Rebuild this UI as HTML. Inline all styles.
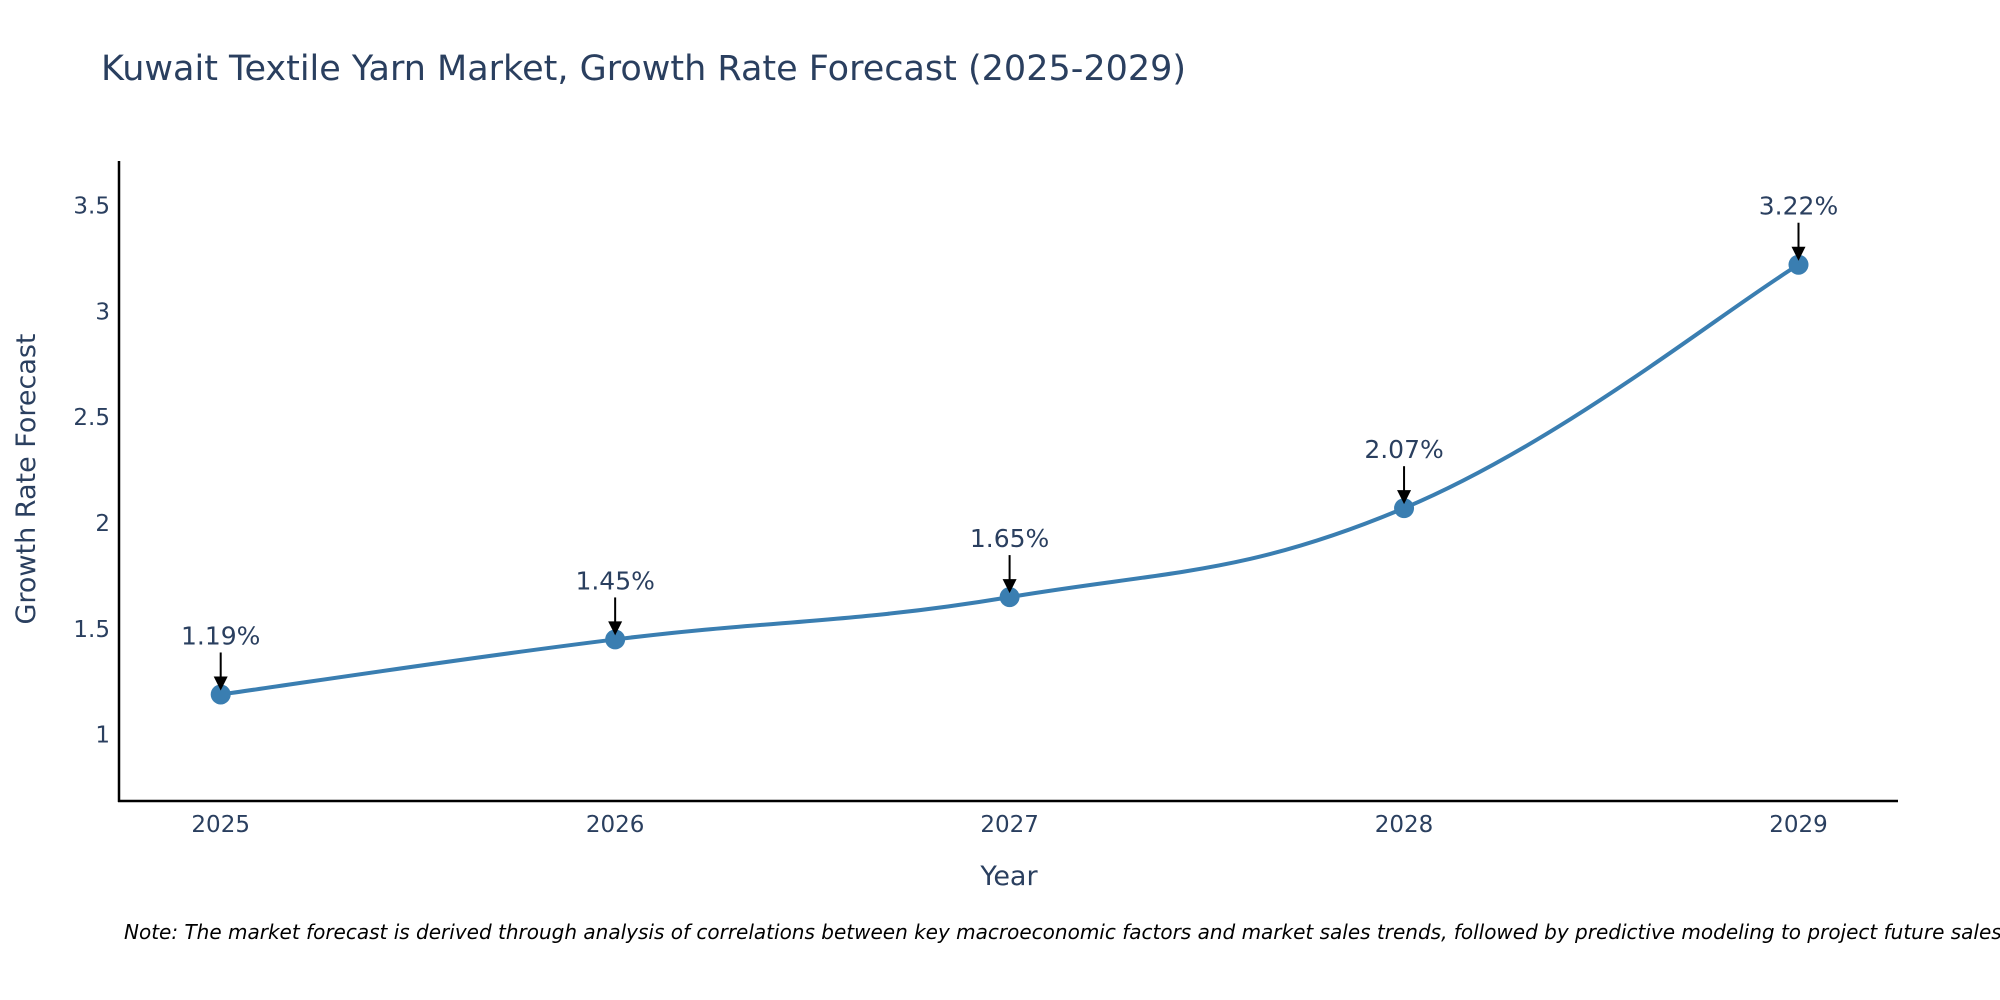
<!DOCTYPE html>
<html><head><meta charset="utf-8"><style>
html,body{margin:0;padding:0;background:#fff;width:2000px;height:1000px;overflow:hidden}
text{font-family:"DejaVu Sans","Liberation Sans",sans-serif}
</style></head><body>
<svg id="chart" width="2000" height="1000" xmlns="http://www.w3.org/2000/svg">
<rect width="2000" height="1000" fill="#fff"/>
<text x="101" y="80" font-size="35" fill="#2a3f5f">Kuwait Textile Yarn Market, Growth Rate Forecast (2025-2029)</text>
<g id="yticks"></g><g id="xticks"></g>
<line x1="119" y1="161" x2="119" y2="802" stroke="#000" stroke-width="2.5"/>
<line x1="118" y1="801" x2="1898" y2="801" stroke="#000" stroke-width="2.5"/>
<g id="series"></g><g id="annots"></g>
<text x="1009" y="885" font-size="27" fill="#2a3f5f" text-anchor="middle">Year</text>
<text transform="translate(35,479) rotate(-90)" font-size="27" fill="#2a3f5f" text-anchor="middle">Growth Rate Forecast</text>
<text x="124" y="939" font-size="20" font-style="italic" fill="#000">Note: The market forecast is derived through analysis of correlations between key macroeconomic factors and market sales trends, followed by predictive modeling to project future sales.</text>
</svg>
<script>
const categories = [2025, 2026, 2027, 2028, 2029];
const values = [1.19, 1.45, 1.65, 2.07, 3.22];
const valueLabels = ["1.19%", "1.45%", "1.65%", "2.07%", "3.22%"];
const yTickValues = [1, 1.5, 2, 2.5, 3, 3.5];
const yTickLabels = ["1", "1.5", "2", "2.5", "3", "3.5"];

const NS = "http://www.w3.org/2000/svg";
const X0 = 220.7, XSTEP = 394.45;
function xScale(v){ return X0 + (v - categories[0]) * XSTEP; }
function yScale(v){ return 734.7 - (v - 1) * 211.7; }
function mk(tag, attrs, parent){ const e = document.createElementNS(NS, tag); for (const k in attrs) e.setAttribute(k, attrs[k]); parent.appendChild(e); return e; }

const yt = document.getElementById('yticks');
yTickValues.forEach((v, i) => {
  const t = mk('text', {x: 110, y: yScale(v) + 8, 'font-size': 23, fill: '#2a3f5f', 'text-anchor': 'end'}, yt);
  
  
  t.textContent = yTickLabels[i];
});
const xt = document.getElementById('xticks');
categories.forEach(c => {
  const t = mk('text', {x: xScale(c), y: 832, 'font-size': 23, fill: '#2a3f5f', 'text-anchor': 'middle'}, xt);
  
  
  t.textContent = String(c);
});

const pts = categories.map((c, i) => [xScale(c), yScale(values[i])]);
let d = 'M' + pts[0][0] + ',' + pts[0][1];
const s = 0.2;
for (let i = 0; i < pts.length - 1; i++) {
  const p0 = pts[i - 1] || pts[i], p1 = pts[i], p2 = pts[i + 1], p3 = pts[i + 2] || p2;
  const c1 = [p1[0] + (p2[0] - p0[0]) * s, p1[1] + (p2[1] - p0[1]) * s];
  const c2 = [p2[0] - (p3[0] - p1[0]) * s, p2[1] - (p3[1] - p1[1]) * s];
  d += ' C' + c1 + ' ' + c2 + ' ' + p2;
}
const sg = document.getElementById('series');
const line = mk('path', {d: d, fill: 'none', stroke: '#3a7eb1', 'stroke-width': 4}, sg);


pts.forEach(p => {
  const c = mk('circle', {cx: p[0], cy: p[1], r: 10, fill: '#3a7eb1'}, sg);
  
  
});

const ag = document.getElementById('annots');
pts.forEach((p, i) => {
  const l = mk('line', {x1: p[0], y1: p[1] - 42, x2: p[0], y2: p[1] - 14, stroke: '#000', 'stroke-width': 2}, ag);
  
  
  const h = mk('polygon', {points: (p[0]-7)+','+(p[1]-18)+' '+(p[0]+7)+','+(p[1]-18)+' '+p[0]+','+(p[1]-4), fill: '#000'}, ag);
  
  
  const t = mk('text', {x: p[0], y: p[1] - 50, 'font-size': 25, fill: '#2a3f5f', 'text-anchor': 'middle'}, ag);
  
  
  t.textContent = valueLabels[i];
});
</script>
</body></html>
